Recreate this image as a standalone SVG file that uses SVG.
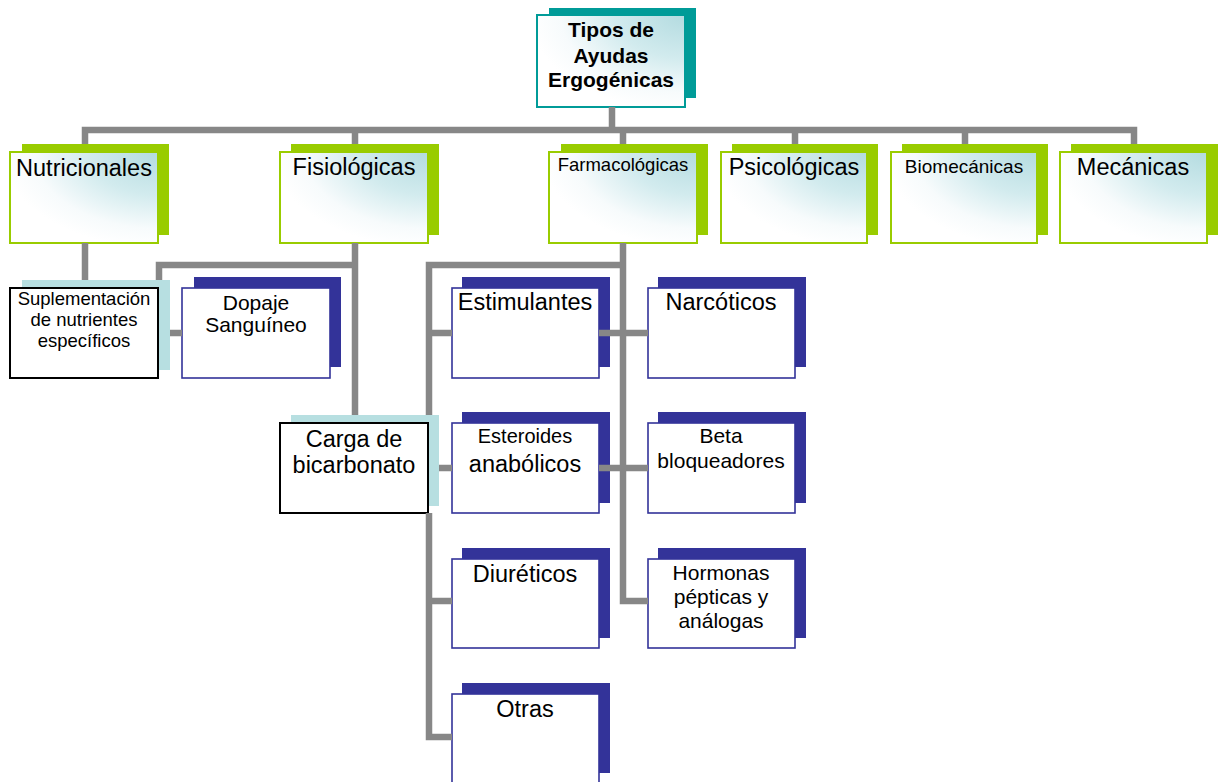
<svg xmlns="http://www.w3.org/2000/svg" width="1228" height="782" viewBox="0 0 1228 782">
<defs>
<radialGradient id="g" cx="1" cy="0" r="1.05" fx="1" fy="0">
<stop offset="0" stop-color="#b3dbe0"/>
<stop offset="0.45" stop-color="#d2ebee"/>
<stop offset="0.8" stop-color="#f7fbfc"/>
<stop offset="1" stop-color="#ffffff"/>
</radialGradient>
<style>
.conn{fill:none;stroke:#878787;stroke-width:6.5;stroke-linejoin:miter}
.ts{fill:#009b98}
.tf{fill:url(#g);stroke:#009b98;stroke-width:2}
.gs{fill:#99cc00}
.gf{fill:url(#g);stroke:#99cc00;stroke-width:2}
.ns{fill:#333399}
.nf{fill:#ffffff;stroke:#333399;stroke-width:1.6}
.ls{fill:#b7dfe1}
.bf{fill:#ffffff;stroke:#000000;stroke-width:2}
text{font-family:"Liberation Sans",Arial,sans-serif;text-anchor:middle;fill:#000}
.t1{font-size:23.5px}
.t2{font-size:21px}
.t3{font-size:18.5px}
.tb{font-size:21px;font-weight:bold}
</style>
</defs>
<rect width="1228" height="782" fill="#ffffff"/>

<g id="node-root">
<rect class="ts" x="549" y="8" width="147" height="90"/>
<rect class="tf" x="537" y="15" width="148" height="92"/>
<text class="tb" x="611" y="37">Tipos de</text>
<text class="tb" x="611" y="62.5">Ayudas</text>
<text class="tb" x="611" y="87">Ergogénicas</text>
</g>

<g id="node-nutricionales">
<rect class="gs" x="22" y="144" width="147" height="91"/>
<rect class="gf" x="10" y="152" width="148" height="91"/>
<text class="t1" x="84" y="176">Nutricionales</text>
</g>
<g id="node-fisiologicas">
<rect class="gs" x="291" y="144" width="148" height="91"/>
<rect class="gf" x="280" y="152" width="148" height="91"/>
<text class="t1" x="354" y="175">Fisiológicas</text>
</g>
<g id="node-farmacologicas">
<rect class="gs" x="561" y="144" width="147" height="91"/>
<rect class="gf" x="549" y="152" width="148" height="91"/>
<text class="t3" x="623" y="171">Farmacológicas</text>
</g>
<g id="node-psicologicas">
<rect class="gs" x="732" y="144" width="146" height="91"/>
<rect class="gf" x="721" y="152" width="146" height="91"/>
<text class="t1" x="794" y="175">Psicológicas</text>
</g>
<g id="node-biomecanicas">
<rect class="gs" x="902" y="144" width="146" height="91"/>
<rect class="gf" x="891" y="152" width="146" height="91"/>
<text x="964" y="172.5" style="font-size:19px">Biomecánicas</text>
</g>
<g id="node-mecanicas">
<rect class="gs" x="1071" y="144" width="147" height="91"/>
<rect class="gf" x="1060" y="152" width="147" height="91"/>
<text class="t1" x="1133" y="175">Mecánicas</text>
</g>

<g id="node-suplementacion">
<rect class="ls" x="22" y="280" width="148" height="90"/>
<rect class="bf" x="10" y="288" width="148" height="90"/>
<text class="t3" x="84" y="305">Suplementación</text>
<text class="t3" x="84" y="326">de nutrientes</text>
<text class="t3" x="84" y="347">específicos</text>
</g>
<g id="node-dopaje">
<rect class="ns" x="194" y="277" width="147" height="90"/>
<rect class="nf" x="182" y="288" width="148" height="90"/>
<text class="t2" x="256" y="310">Dopaje</text>
<text class="t2" x="256" y="332">Sanguíneo</text>
</g>
<g id="node-carga">
<rect class="ls" x="291" y="415" width="148" height="91"/>
<rect class="bf" x="280" y="423" width="148" height="90"/>
<text class="t1" x="354" y="447">Carga de</text>
<text class="t1" x="354" y="473">bicarbonato</text>
</g>

<g id="node-estimulantes">
<rect class="ns" x="462" y="277" width="148" height="90"/>
<rect class="nf" x="452" y="288" width="147" height="90"/>
<text class="t1" x="525" y="310">Estimulantes</text>
</g>
<g id="node-narcoticos">
<rect class="ns" x="658" y="277" width="148" height="90"/>
<rect class="nf" x="648" y="288" width="147" height="90"/>
<text class="t1" x="721" y="310">Narcóticos</text>
</g>
<g id="node-esteroides">
<rect class="ns" x="462" y="412" width="148" height="91"/>
<rect class="nf" x="452" y="423" width="147" height="90"/>
<text x="525" y="443" style="font-size:20px">Esteroides</text>
<text class="t1" x="525" y="472">anabólicos</text>
</g>
<g id="node-beta">
<rect class="ns" x="658" y="412" width="148" height="91"/>
<rect class="nf" x="648" y="423" width="147" height="90"/>
<text class="t2" x="721" y="443">Beta</text>
<text class="t2" x="721" y="468">bloqueadores</text>
</g>
<g id="node-diureticos">
<rect class="ns" x="462" y="548" width="148" height="90"/>
<rect class="nf" x="452" y="559" width="147" height="89"/>
<text class="t1" x="525" y="582">Diuréticos</text>
</g>
<g id="node-hormonas">
<rect class="ns" x="658" y="548" width="148" height="90"/>
<rect class="nf" x="648" y="559" width="147" height="89"/>
<text class="t2" x="721" y="580">Hormonas</text>
<text class="t2" x="721" y="604">pépticas y</text>
<text class="t2" x="721" y="628">análogas</text>
</g>
<g id="node-otras">
<rect class="ns" x="462" y="683" width="148" height="90"/>
<rect class="nf" x="452" y="694" width="147" height="92"/>
<text class="t1" x="525" y="717">Otras</text>
</g>

<g id="connectors">
<path class="conn" d="M612,107 V130"/>
<path class="conn" d="M85,144 V130 H1134 V144"/>
<path class="conn" d="M355,130 V144 M623,130 V144 M795,130 V144 M965,130 V144"/>
<path class="conn" d="M85,243 V280"/>
<path class="conn" d="M355,243 V415 M355,265 H159 V280 M170,333 H182"/>
<path class="conn" d="M623,243 V601 H648 M623,265 H429 V415 M429,513 V737 H452"/>
<path class="conn" d="M429,333 H452 M599,333 H648 M439,468 H452 M599,468 H648 M429,601 H452"/>
</g>
</svg>
